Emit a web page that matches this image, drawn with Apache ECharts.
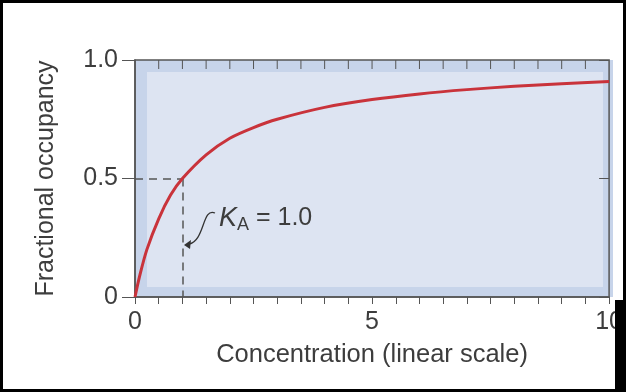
<!DOCTYPE html>
<html>
<head>
<meta charset="utf-8">
<script src="https://cdn.jsdelivr.net/npm/echarts@6/dist/echarts.min.js"></script>
<style>
  html, body { margin: 0; padding: 0; background: #fff; }
  #main { width: 626px; height: 392px; }
</style>
</head>
<body>
<div id="main"></div>
<script>
// values
const concentration = [0, 0.1, 0.25, 0.5, 0.75, 1, 1.5, 2, 2.5, 3, 4, 5, 6, 7, 8, 9, 10];
const occupancy = [0, 0.09, 0.2, 0.33, 0.43, 0.5, 0.6, 0.67, 0.715, 0.75, 0.8, 0.833, 0.857, 0.875, 0.889, 0.9, 0.909];
const yTickLabels = { 0: '0', 0.5: '0.5', 1: '1.0' };
const topTicks = [0.5, 1, 1.5, 2, 2.5, 3, 3.5, 4, 4.5, 5, 5.5, 6, 6.5, 7, 7.5, 8, 8.5, 9, 9.5];
const kA = 1.0;
const halfOcc = 0.5;

const font = 'Liberation Sans, Arial, sans-serif';
const textColor = '#3d3d3d';
const axisColor = '#555';

const chart = echarts.init(document.getElementById('main'));

const points = concentration.map((c, i) => [c, occupancy[i]]);

chart.setOption({
  backgroundColor: '#fff',
  animation: false,
  grid: {
    left: 135, right: 13, top: 60, bottom: 95,
    show: true,
    backgroundColor: 'transparent',
    borderColor: axisColor,
    borderWidth: 1.5
  },
  xAxis: {
    type: 'value', min: 0, max: 10, interval: 5,
    name: 'Concentration (linear scale)',
    nameLocation: 'middle', nameGap: 45,
    nameTextStyle: { fontFamily: font, fontSize: 25.5, color: textColor },
    axisLine: { show: true, onZero: false, lineStyle: { color: axisColor, width: 1.5 } },
    axisTick: { show: true, length: 7, lineStyle: { color: axisColor } },
    minorTick: { show: true, splitNumber: 10, length: 7, lineStyle: { color: axisColor } },
    axisLabel: { fontFamily: font, fontSize: 25, color: textColor, margin: 13 },
    splitLine: { show: false },
    minorSplitLine: { show: false }
  },
  yAxis: [
    {
      type: 'value', min: 0, max: 1, interval: 0.5,
      name: 'Fractional occupancy',
      nameLocation: 'middle', nameGap: 76,
      nameTextStyle: { fontFamily: font, fontSize: 25, color: textColor },
      axisLine: { show: true, onZero: false, lineStyle: { color: axisColor, width: 1.5 } },
      axisTick: { show: true, length: 13, lineStyle: { color: axisColor } },
      axisLabel: {
        fontFamily: font, fontSize: 25, color: textColor, margin: 17,
        formatter: v => yTickLabels[v]
      },
      splitLine: { show: false }
    },
    {
      // inward tick on the right edge
      type: 'value', min: 0, max: 1, interval: 0.5, position: 'right',
      axisLine: { show: false, onZero: false },
      axisTick: { show: true, inside: true, length: 10, lineStyle: { color: axisColor } },
      axisLabel: { show: false },
      splitLine: { show: false }
    }
  ],
  graphic: [
    { type: 'rect', z: -10, shape: { x: 135, y: 60, width: 478, height: 237 }, style: { fill: '#c7d4ea' } },
    { type: 'rect', z: -9, shape: { x: 147, y: 72, width: 456, height: 215 }, style: { fill: '#dde4f2' } },
    {
      type: 'text', left: 219, top: 205, z: 10,
      style: {
        text: '{k|K}{s|A}{n| = 1.0}',
        fill: textColor,
        rich: {
          k: { fontFamily: font, fontSize: 27, fontStyle: 'italic', fill: textColor },
          s: { fontFamily: font, fontSize: 18, fill: textColor, padding: [14, 0, 0, 0] },
          n: { fontFamily: font, fontSize: 25, fill: textColor }
        }
      }
    },
    {
      type: 'bezierCurve', z: 10,
      shape: { x1: 215, y1: 213, x2: 189, y2: 244, cpx1: 202, cpy1: 207, cpx2: 205, cpy2: 241 },
      style: { stroke: '#333', lineWidth: 1.3, fill: null }
    },
    {
      type: 'polygon', z: 10,
      shape: { points: [[184, 245], [191, 240], [190, 249]] },
      style: { fill: '#333' }
    },
    // picture frame
    { type: 'rect', z: 20, shape: { x: 0, y: 0, width: 626, height: 392 }, style: { fill: null, stroke: '#000', lineWidth: 6 } },
    { type: 'rect', z: 20, shape: { x: 615, y: 300, width: 11, height: 92 }, style: { fill: '#000' } }
  ],
  series: [
    {
      type: 'line',
      data: points,
      smooth: 0.3,
      showSymbol: false,
      lineStyle: { color: '#c9333b', width: 3 },
      z: 5,
      markLine: {
        silent: true,
        symbol: 'none',
        label: { show: false },
        lineStyle: { color: '#555', type: [8, 6], width: 1.5 },
        data: [
          [{ coord: [0, halfOcc] }, { coord: [kA, halfOcc] }],
          [{ coord: [kA, halfOcc] }, { coord: [kA, 0] }]
        ]
      }
    },
    {
      // inward ticks along the top edge
      type: 'custom',
      silent: true,
      clip: false,
      z: 3,
      data: topTicks.map(v => [v, 1]),
      encode: { x: 0, y: 1 },
      renderItem: (params, api) => {
        const p = api.coord([api.value(0), api.value(1)]);
        return {
          type: 'line',
          shape: { x1: p[0], y1: p[1], x2: p[0], y2: p[1] + 9 },
          style: { stroke: axisColor, lineWidth: 1 }
        };
      }
    }
  ]
});
</script>
</body>
</html>
